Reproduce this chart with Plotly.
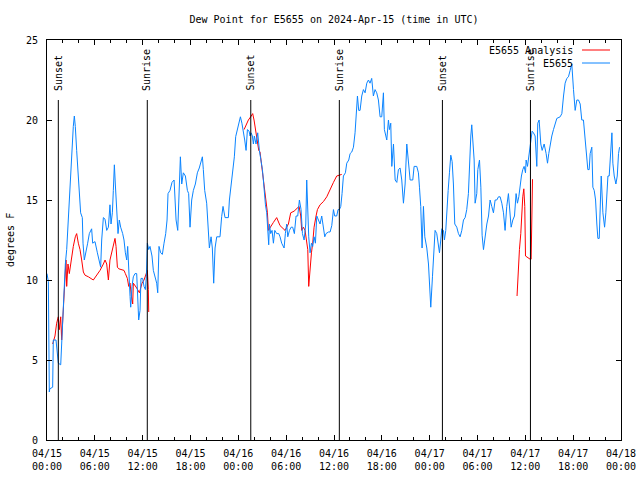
import datetime as dt
import plotly.graph_objects as go

BASE = dt.datetime(2024, 4, 15, 0, 0)

# ---- E5655 observations (hours since 2024-04-15 00:00 UTC, dew point F)
blue_hours = [
    0.0, 0.17, 0.29, 0.35, 0.71, 0.79, 1.13, 1.42, 1.72, 1.97, 2.13, 2.3, 2.47, 2.63, 2.8, 2.97,
    3.14, 3.3, 3.43, 3.55, 3.72, 3.89, 4.06, 4.22, 4.43, 4.52, 4.68, 4.89, 5.1, 5.31, 5.6, 5.73,
    6.02, 6.32, 6.57, 6.73, 6.86, 7.07, 7.28, 7.49, 7.7, 7.9, 8.03, 8.2, 8.32, 8.45, 8.57, 8.74,
    8.91, 9.07, 9.24, 9.49, 9.66, 9.83, 10.0, 10.12, 10.25, 10.42, 10.5, 10.66, 10.83, 11.04,
    11.25, 11.37, 11.5, 11.67, 11.79, 12.0, 12.17, 12.34, 12.46, 12.59, 12.76, 12.92, 13.17,
    13.34, 13.55, 13.76, 13.89, 14.05, 14.26, 14.47, 14.68, 14.89, 15.06, 15.18, 15.43, 15.68,
    15.94, 16.19, 16.4, 16.56, 16.73, 16.9, 17.1, 17.36, 17.61, 17.77, 17.94, 18.15, 18.36,
    18.61, 18.86, 19.1, 19.36, 19.49, 19.61, 19.78, 20.03, 20.2, 20.37, 20.58, 20.74, 20.91,
    21.08, 21.29, 21.7, 21.91, 22.08, 22.33, 22.75, 22.88, 23.08, 23.29, 23.5, 23.67, 23.92,
    24.09, 24.26, 24.45, 24.6, 24.8, 24.97, 25.14, 25.35, 25.47, 25.6, 25.76, 25.89, 26.01,
    26.22, 26.43, 26.64, 26.85, 27.02, 27.14, 27.27, 27.4, 27.56, 27.69, 27.81, 27.9, 28.06,
    28.23, 28.4, 28.57, 28.81, 29.07, 29.23, 29.44, 29.61, 29.74, 29.9, 30.07, 30.2, 30.41,
    30.62, 30.82, 31.03, 31.24, 31.45, 31.66, 31.87, 32.04, 32.25, 32.46, 32.58, 32.71, 32.83,
    33.0, 33.17, 33.33, 33.5, 33.67, 33.84, 34.05, 34.25, 34.46, 34.67, 34.84, 35.0, 35.3,
    35.51, 35.72, 35.93, 36.09, 36.34, 36.51, 36.68, 36.85, 37.01, 37.18, 37.43, 37.6, 37.85,
    38.02, 38.23, 38.44, 38.64, 38.77, 38.94, 39.1, 39.27, 39.48, 39.69, 39.9, 40.11, 40.32,
    40.52, 40.73, 40.94, 41.15, 41.36, 41.57, 41.78, 41.99, 42.2, 42.32, 42.49, 42.62, 42.83,
    42.95, 43.12, 43.25, 43.46, 43.67, 43.88, 44.08, 44.29, 44.5, 44.71, 44.92, 45.13, 45.34,
    45.55, 45.88, 46.05, 46.38, 46.59, 46.72, 46.88, 47.05, 47.22, 47.39, 47.64, 47.85, 47.97,
    48.14, 48.35, 48.48, 48.68, 48.89, 49.1, 49.23, 49.39, 49.52, 49.73, 49.85, 50.02, 50.15,
    50.32, 50.48, 50.65, 50.82, 50.98, 51.15, 51.4, 51.61, 51.82, 52.03, 52.24, 52.45, 52.65,
    52.86, 52.99, 53.16, 53.28, 53.41, 53.58, 53.7, 53.91, 54.04, 54.25, 54.42, 54.58, 54.75,
    54.96, 55.17, 55.38, 55.58, 55.79, 56.0, 56.21, 56.42, 56.63, 56.84, 57.05, 57.26, 57.46,
    57.67, 57.88, 58.09, 58.22, 58.43, 58.64, 58.84, 59.01, 59.18, 59.35, 59.51, 59.68, 59.85,
    60.02, 60.1, 60.27, 60.43, 60.6, 60.73, 60.85, 61.02, 61.23, 61.44, 61.56, 61.73, 61.94,
    62.11, 62.36, 62.61, 62.78, 62.94, 63.11, 63.32, 63.53, 63.74, 63.95, 64.37, 64.58, 64.79,
    64.99, 65.2, 65.41, 65.62, 65.83, 66.04, 66.25, 66.46, 66.67, 66.88, 67.08, 67.29, 67.5,
    67.71, 67.84, 68.01, 68.13, 68.34, 68.47, 68.64, 68.81, 68.97, 69.1, 69.27, 69.39, 69.52,
    69.73, 69.94, 70.1, 70.23, 70.36, 70.52, 70.73, 70.86, 70.98, 71.15, 71.36, 71.53, 71.69,
    71.82,
]
blue_values = [
    10.4, 9.9, 3.0, 3.2, 3.3, 6.25, 6.25, 4.8, 4.7, 7.7, 8.75, 11.0, 11.9, 13.5, 15.0, 16.5,
    18.75, 19.6, 20.25, 19.6, 18.1, 16.7, 14.8, 14.2, 13.9, 12.3, 11.25, 11.7, 12.3, 12.9, 13.2, 12.3,
    12.4, 11.7, 11.25, 10.8, 12.5, 13.9, 13.8, 13.1, 13.3, 14.7, 13.5, 14.2, 15.6, 17.2, 16.0, 14.2,
    12.9, 13.75, 13.3, 12.9, 12.5, 11.7, 11.25, 12.1, 10.2, 8.96, 8.3, 9.6, 10.2, 10.4,
    10.4, 9.0, 7.5, 8.1, 10.1, 10.1, 9.6, 9.4, 10.2, 12.3, 11.9, 12.1, 11.5,
    10.6, 10.2, 9.8, 9.2, 12.1, 11.7, 11.6, 12.3, 12.9, 13.75, 15.4, 15.6, 16.1,
    16.25, 13.75, 13.1, 15.5, 17.7, 16.0, 16.7, 16.5, 15.6, 15.4, 13.3, 15.0, 15.6,
    16.0, 16.7, 17.0, 17.6, 17.7, 16.9, 15.6, 14.8, 13.1, 12.0, 12.7, 12.0, 9.8,
    12.0, 12.7, 12.7, 13.96, 14.6, 13.9, 13.9, 15.0, 15.8, 16.7, 17.7, 18.96, 19.5,
    19.8, 20.2, 19.8, 19.4, 18.75, 18.1, 19.4, 19.3, 19.0, 19.2, 19.0, 18.5, 19.0,
    18.5, 19.2, 18.1, 17.5, 16.9, 16.25, 15.2, 14.7, 14.2, 13.1, 12.2, 13.5, 12.9,
    13.1, 12.3, 13.1, 12.9, 12.9, 12.7, 12.3, 12.1, 12.0, 12.9, 13.5, 12.7, 13.1,
    13.3, 13.3, 12.9, 14.0, 14.0, 15.0, 14.4, 12.9, 12.5, 13.5, 16.25, 14.0, 12.7,
    11.7, 12.3, 12.1, 12.7, 12.3, 14.0, 13.75, 13.5, 14.0, 13.1, 12.7, 12.9, 13.0,
    13.0, 13.4, 14.4, 14.0, 14.0, 14.4, 14.4, 14.6, 15.4, 16.5, 16.7, 17.3, 17.5,
    17.9, 18.0, 18.3, 19.2, 20.0, 21.5, 20.6, 20.6, 21.5, 21.9, 21.7, 22.3, 22.5,
    22.3, 22.6, 21.5, 21.9, 21.7, 21.25, 20.2, 20.2, 21.7, 19.4, 19.0, 18.75, 20.0,
    19.4, 19.8, 17.1, 18.5, 16.25, 16.1, 16.9, 17.0, 16.25, 14.8, 16.0, 18.5, 17.3,
    16.25, 16.25, 17.1, 17.1, 16.7, 15.8, 14.6, 12.0, 14.6, 12.7, 12.0, 11.0, 9.8,
    8.3, 10.2, 11.25, 13.1, 12.9, 12.3, 11.7, 12.5, 13.2, 13.1, 12.5, 13.1, 14.4,
    15.6, 16.7, 17.8, 17.4, 16.0, 13.5, 13.3, 12.9, 12.7, 13.1, 13.75, 13.9, 14.4,
    15.4, 17.5, 19.0, 19.7, 18.5, 17.5, 14.8, 15.4, 16.9, 17.5, 15.8, 12.8, 11.9,
    12.9, 13.5, 14.0, 15.0, 14.6, 14.2, 15.0, 15.0, 15.2, 15.2, 14.8, 14.2, 13.1,
    14.6, 15.4, 14.0, 13.3, 13.75, 14.0, 15.4, 14.8, 15.2, 16.0, 16.5, 16.9, 17.1,
    16.7, 17.5, 17.1, 17.8, 18.3, 18.75, 19.3, 19.2, 19.0, 17.1, 19.8, 20.0, 18.5,
    18.1, 18.5, 17.9, 17.3, 17.9, 18.5, 19.0, 19.4, 19.8, 20.1, 20.2, 20.4, 21.5,
    22.3, 22.6, 22.7, 23.1, 23.5, 21.9, 20.6, 21.25, 21.25, 21.0, 20.0, 20.0, 18.75,
    17.5, 16.9, 16.9, 17.9, 18.3, 15.8, 15.6, 15.0, 13.5, 12.6, 12.6, 14.0, 16.5,
    14.2, 13.3, 14.2, 15.2, 16.5, 16.5, 18.1, 19.2, 17.3, 16.5, 16.0, 16.5, 17.9,
    18.3,
]

# ---- E5655 Analysis (None = gap in the analysis series)
red_hours = [
    0.71, 1.0, 1.21, 1.42, 1.55, 1.72, 1.84, 1.97, 2.13, 2.3, 2.38, 2.47, 2.63, 2.8, 2.97, 3.14,
    3.3, 3.55, 3.72, 3.93, 4.14, 4.35, 4.56, 4.77, 5.19, 5.81, 6.23, 6.65, 7.07, 7.28, 7.49, 7.7,
    7.9, 8.11, 8.32, 8.53, 8.66, 8.83, 9.0, 9.37, 9.66, 9.83, 10.08, 10.25, 10.42, 10.58, 10.75,
    10.83, 11.04, 11.25, 11.59, 11.75, 11.92, 12.17, 12.42, 12.59, 12.71, 12.76,
    None,
    24.72, 25.26, 25.55, 25.8, 25.97, 26.14, 26.3, 26.56, 26.72, 26.97, 27.14, 27.27, 27.48,
    27.65, 27.77, 27.98, 28.4, 28.81, 29.23, 29.86, 30.28, 30.57, 30.99, 31.62, 31.83, 31.95,
    32.16, 32.37, 32.58, 32.71, 32.83, 33.0, 33.17, 33.33, 33.5, 33.75, 33.92, 34.25, 34.67,
    35.09, 35.51, 35.93, 36.34, 36.76, 36.97,
    None,
    58.96, 59.1, 59.26, 59.43, 59.56, 59.68, 59.81, 59.93, 60.02, 60.27, 60.6, 60.73, 60.77, 60.9,
]
red_values = [
    6.0, 6.5, 7.3, 7.7, 6.9, 7.7, 6.25, 7.3, 8.96, 10.2, 11.25, 9.6, 11.0, 10.4, 11.0, 11.5,
    12.1, 12.7, 12.9, 12.3, 11.9, 11.25, 10.5, 10.3, 10.2, 10.0, 10.3, 10.6, 11.0, 11.25, 11.0, 10.0,
    11.25, 11.7, 12.1, 12.6, 12.1, 10.8, 10.7, 10.65, 10.6, 10.4, 10.1, 9.6, 9.8, 9.0, 8.5,
    9.8, 9.6, 9.5, 9.2, 9.6, 9.8, 10.0, 10.4, 10.6, 9.4, 8.0,
    None,
    19.4, 20.0, 20.2, 20.4, 20.0, 19.4, 18.75, 18.1, 18.0, 16.9, 16.25, 15.6, 14.6,
    14.2, 13.1, 13.3, 13.6, 13.9, 13.4, 13.1, 13.5, 14.2, 14.3, 14.6, 14.0, 13.1,
    13.3, 13.1, 12.3, 11.9, 9.6, 11.0, 11.7, 12.3, 13.3, 14.0, 14.4, 14.7, 14.9,
    15.2, 15.7, 16.1, 16.5, 16.6, 16.6,
    None,
    9.0, 10.6, 11.9, 12.9, 14.8, 15.2, 15.7, 14.6, 11.5, 11.4, 11.3, 11.3, 13.75, 16.3,
]

# ---- Sun events (hours since 2024-04-15 00:00 UTC)
sun_hours = [1.42, 12.58, 25.56, 36.67, 49.6, 60.64]
sun_labels = ["Sunset", "Sunrise", "Sunset", "Sunrise", "Sunset", "Sunrise"]
sun_line_top = 21.25

y_ticks = [0, 5, 10, 15, 20, 25]


def to_time(hours):
    return [None if h is None else BASE + dt.timedelta(hours=h) for h in hours]


FONT = "DejaVu Sans Mono"
FS = 10
BLUE = "#0a84ff"
RED = "#ff0000"

# plot-area geometry in pixels
L, R, T, B = 47, 621, 40, 440
PW, PH = R - L, B - T

fig = go.Figure()
fig.add_trace(go.Scatter(x=to_time(red_hours), y=red_values, mode="lines",
                         name="E5655 Analysis", line=dict(color=RED, width=1),
                         connectgaps=False))
fig.add_trace(go.Scatter(x=to_time(blue_hours), y=blue_values, mode="lines",
                         name="E5655", line=dict(color=BLUE, width=1)))

for h, lab in zip(sun_hours, sun_labels):
    t = BASE + dt.timedelta(hours=h)
    fig.add_shape(type="line", xref="x", yref="y", x0=t, x1=t, y0=0, y1=sun_line_top,
                  line=dict(color="black", width=1))
    fig.add_annotation(x=t, y=sun_line_top + 0.45, xref="x", yref="y", text=lab,
                       textangle=-90, showarrow=False, xanchor="center", yanchor="bottom",
                       font=dict(family=FONT, size=FS, color="black"))

# gnuplot-style key (text right-aligned, sample line on the right)
for i, (name, col) in enumerate([("E5655 Analysis", RED), ("E5655", BLUE)]):
    ypx = 50 + 13 * i
    yp = 1 - (ypx - T) / PH
    fig.add_annotation(x=(575 - L) / PW, y=yp, xref="paper", yref="paper", text=name,
                       showarrow=False, xanchor="right", yanchor="middle",
                       font=dict(family=FONT, size=FS, color="black"))
    fig.add_shape(type="line", xref="paper", yref="paper",
                  x0=(582 - L) / PW, x1=(610 - L) / PW, y0=yp, y1=yp,
                  line=dict(color=col, width=1))

# y-axis title (gnuplot style, left of tick labels)
fig.add_annotation(x=(10 - L) / PW, y=0.5, xref="paper", yref="paper", text="degrees F",
                   textangle=-90, showarrow=False, xanchor="center", yanchor="middle",
                   font=dict(family=FONT, size=FS, color="black"))

fig.update_layout(
    width=640, height=480,
    margin=dict(l=L, r=640 - R, t=T, b=480 - B, autoexpand=False),
    paper_bgcolor="white", plot_bgcolor="white",
    showlegend=False,
    font=dict(family=FONT, size=FS, color="black"),
    title=dict(text="Dew Point for E5655 on 2024-Apr-15 (time in UTC)",
               x=0.5, xref="paper", y=1 - 19 / 480, yref="container",
               xanchor="center", yanchor="middle",
               font=dict(family=FONT, size=FS, color="black")),
)
fig.update_xaxes(
    type="date",
    range=[BASE, BASE + dt.timedelta(hours=72)],
    tickformat="%m/%d<br>%H:%M",
    dtick=6 * 3600 * 1000,
    tick0=BASE,
    ticks="inside", ticklen=5, tickcolor="black", tickwidth=1,
    minor=dict(dtick=2 * 3600 * 1000, ticks="inside", ticklen=3, tickcolor="black"),
    showline=True, linecolor="black", linewidth=1, mirror="allticks",
    showgrid=False, zeroline=False, automargin=False,
    ticklabelstandoff=4,
    tickfont=dict(family=FONT, size=FS, color="black"),
)
fig.update_yaxes(
    range=[0, 25],
    tickvals=y_ticks,
    ticks="inside", ticklen=5, tickcolor="black", tickwidth=1,
    showline=True, linecolor="black", linewidth=1, mirror="allticks",
    showgrid=False, zeroline=False, automargin=False,
    ticklabelstandoff=6,
    tickfont=dict(family=FONT, size=FS, color="black"),
)

fig.write_html(
    "out.html",
    config={"displayModeBar": False, "staticPlot": True},
    post_script="document.body.style.margin='0';document.body.style.overflow='hidden';",
)
